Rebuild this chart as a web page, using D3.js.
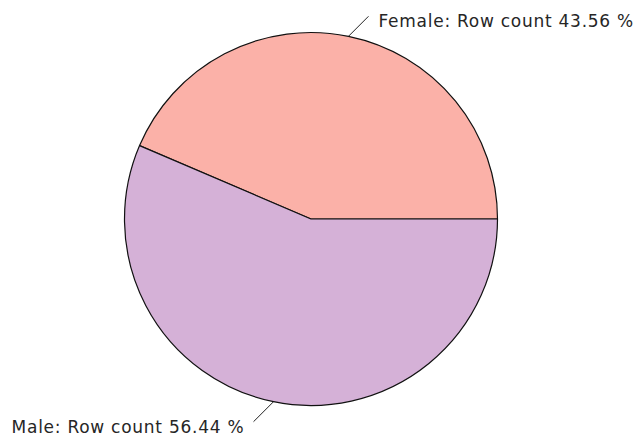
<!DOCTYPE html>
<html>
<head>
<meta charset="utf-8">
<script src="https://cdn.jsdelivr.net/npm/d3@7"></script>
<style>
  html, body { margin: 0; padding: 0; background: #fff; }
  svg { display: block; }
  .label { font-family: "DejaVu Sans", Verdana, sans-serif; font-size: 17px; fill: #262626; }
</style>
</head>
<body>
<svg id="chart" width="637" height="441"></svg>
<script>
// Gender split as share of row count (%)
const categories = ["Female", "Male"];
const shares = [43.56, 56.44];
const colors = ["#fbb1a8", "#d5b1d7"];

const width = 637, height = 441;
const cx = 311, cy = 219, radius = 186.5;
const labelSpread = 1.075; // extra letter spacing for the slice labels

const svg = d3.select("#chart");
const g = svg.append("g").attr("transform", `translate(${cx},${cy})`);

const data = categories.map((c, i) => ({ name: c, value: shares[i], color: colors[i] }));

// Slices run counter-clockwise starting at three o'clock
const pie = d3.pie()
  .sort(null)
  .value(d => d.value)
  .startAngle(Math.PI / 2)
  .endAngle(Math.PI / 2 - 2 * Math.PI);

const arc = d3.arc().innerRadius(0).outerRadius(radius);
const arcs = pie(data);

g.selectAll("path.slice")
  .data(arcs)
  .join("path")
  .attr("class", "slice")
  .attr("d", arc)
  .attr("fill", d => d.data.color)
  .attr("stroke", "#111")
  .attr("stroke-width", 1.2)
  .attr("stroke-linejoin", "round");

// Leader lines and labels
const lead = 20;
arcs.forEach(d => {
  const mid = (d.startAngle + d.endAngle) / 2;
  const x0 = Math.sin(mid) * radius;
  const y0 = -Math.cos(mid) * radius;
  const sx = x0 >= 0 ? 1 : -1;
  const sy = y0 >= 0 ? 1 : -1;
  const x1 = x0 + sx * lead;
  const y1 = y0 + sy * lead;
  g.append("line")
    .attr("x1", x0).attr("y1", y0)
    .attr("x2", x1).attr("y2", y1)
    .attr("stroke", "#222")
    .attr("stroke-width", 1);
  const t = g.append("text")
    .attr("class", "label")
    .attr("x", x1 + sx * 10)
    .attr("y", y1 + 11)
    .attr("text-anchor", sx > 0 ? "start" : "end")
    .text(`${d.data.name}: Row count ${d.data.value.toFixed(2)} %`);
  const natural = t.node().getComputedTextLength();
  t.attr("textLength", natural * labelSpread).attr("lengthAdjust", "spacing");
});
</script>
</body>
</html>
